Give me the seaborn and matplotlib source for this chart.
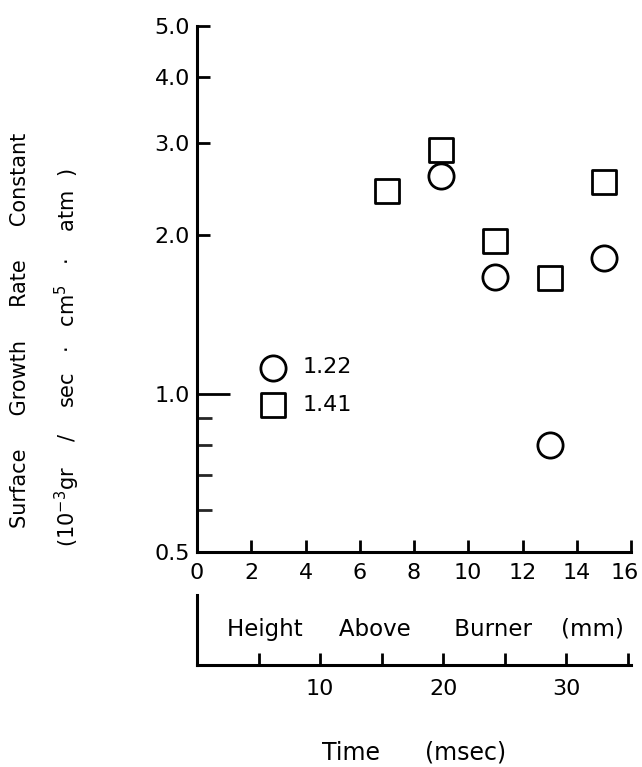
import numpy as np
import pandas as pd
import matplotlib
matplotlib.use("Agg")
import matplotlib.pyplot as plt
import matplotlib.transforms as mtransforms
import seaborn as sns

# Data
height_mm = [7, 9, 11, 13, 15]
k_122 = [None, 2.59, 1.67, 0.80, 1.81]   # circles (phi = 1.22)
k_141 = [2.43, 2.90, 1.95, 1.66, 2.53]   # squares (phi = 1.41)
series_labels = ["1.22", "1.41"]
y_major = [0.5, 1.0, 2.0, 3.0, 4.0, 5.0]
y_major_labels = ["0.5", "1.0", "2.0", "3.0", "4.0", "5.0"]
y_minor = [0.6, 0.7, 0.8, 0.9]
x_ticks = [0, 2, 4, 6, 8, 10, 12, 14, 16]
time_major = [10, 20, 30]
time_minor = [5, 15, 25, 35]
MSEC_PER_MM = 2.203

sns.set_theme(style="ticks")
plt.rcParams["font.family"] = ["DejaVu Sans"]
plt.rcParams["text.color"] = "black"
plt.rcParams["axes.labelcolor"] = "black"

W, H = 642, 767
fig = plt.figure(figsize=(W / 100, H / 100), dpi=100)

def px_rect(x0, x1, ytop, ybot):
    return [x0 / W, 1 - ybot / H, (x1 - x0) / W, (ybot - ytop) / H]

ax = fig.add_axes(px_rect(197, 631, 26, 552))

df1 = pd.DataFrame({"h": height_mm, "k": k_122}).dropna()
df2 = pd.DataFrame({"h": height_mm, "k": k_141}).dropna()
sns.scatterplot(data=df1, x="h", y="k", marker="o", s=330, facecolor="white",
                edgecolor="black", linewidth=2.0, ax=ax, label=series_labels[0],
                clip_on=False, zorder=3)
sns.scatterplot(data=df2, x="h", y="k", marker="s", s=300, facecolor="white",
                edgecolor="black", linewidth=2.0, ax=ax, label=series_labels[1],
                clip_on=False, zorder=3)

ax.set_yscale("log")
ax.set_ylim(0.5, 5.0)
ax.set_xlim(0, 16)
ax.set_yticks(y_major)
ax.set_yticklabels(y_major_labels)
ax.set_yticks(y_minor, minor=True)
ax.yaxis.set_minor_formatter(matplotlib.ticker.NullFormatter())
ax.set_xticks(x_ticks)
ax.set_xticklabels([str(v) for v in x_ticks])

for s in ["top", "right"]:
    ax.spines[s].set_visible(False)
for s in ["left", "bottom"]:
    ax.spines[s].set_linewidth(2.2)
    ax.spines[s].set_color("black")

ax.tick_params(axis="both", which="major", direction="in", length=9, width=2.0,
               labelsize=16, colors="black", pad=5)
ax.tick_params(axis="x", which="major", pad=8)
ax.tick_params(axis="y", which="minor", direction="in", length=11, width=2.0)
# longer tick at 1.0
ax.yaxis.get_major_ticks()[1].tick1line.set_markersize(24)

# nudge the last x tick label ("16") slightly left so it stays inside the figure
last_lbl = ax.get_xticklabels()[-1]
last_lbl.set_transform(last_lbl.get_transform() +
                       mtransforms.ScaledTranslation(-6 / 100, 0, fig.dpi_scale_trans))

ax.set_xlabel("Height     Above      Burner    (mm)", fontsize=16.5)
ax.xaxis.set_label_coords(0.527, -0.126)
ax.set_ylabel("")

leg = ax.legend(loc="center left", bbox_to_anchor=(0.145, 0.315), frameon=False,
                fontsize=16, handletextpad=0.7, labelspacing=0.8, borderpad=0,
                borderaxespad=0, handlelength=1.2)

# Time axis below
ax2 = fig.add_axes(px_rect(197, 631, 595, 665))
ax2.set_xlim(0, 16 * MSEC_PER_MM)
ax2.set_ylim(0, 1)
ax2.set_yticks([])
ax2.set_xticks(time_major)
ax2.set_xticklabels([str(v) for v in time_major])
ax2.set_xticks(time_minor, minor=True)
ax2.set_facecolor("none")
for s in ["top", "right"]:
    ax2.spines[s].set_visible(False)
for s in ["left", "bottom"]:
    ax2.spines[s].set_linewidth(2.2)
    ax2.spines[s].set_color("black")
ax2.tick_params(axis="x", which="both", direction="in", length=9, width=2.0,
                labelsize=16, colors="black", pad=10)
ax2.set_xlabel("Time      (msec)", fontsize=17, labelpad=30)

# Y-axis label (two lines)
fig.text(20 / W, 1 - 330 / H, "Surface     Growth     Rate     Constant",
         rotation=90, ha="center", va="center", fontsize=15)
fig.text(67 / W, 1 - 358 / H,
         r"(10$^{-3}$gr    /    sec   $\cdot$   cm$^{5}$   $\cdot$    atm  )",
         rotation=90, ha="center", va="center", fontsize=15)

fig.savefig("out.png", dpi=100, facecolor="white")
